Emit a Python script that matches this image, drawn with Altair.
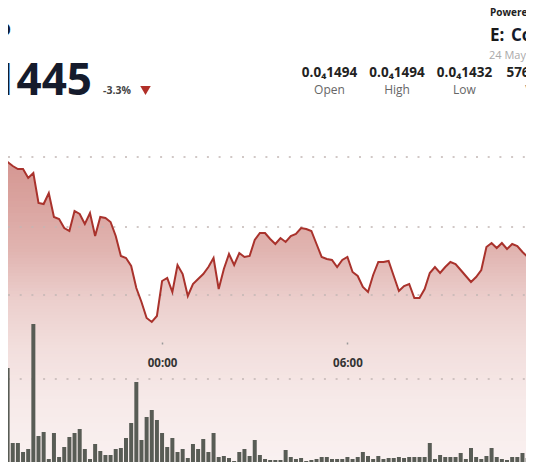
import altair as alt
import numpy as np
import pandas as pd

# ---------------- data ----------------
pair_name = "SHIB/USD"
last_price = "0.0\u20841445"
change_pct = "-3.3%"
stat_labels = ["Open", "High", "Low", "Vol"]
stat_values = ["0.0\u20841494", "0.0\u20841494", "0.0\u20841432", "576.29M"]
powered_by = "Powered by"
brand = "CoinDesk"
updated = "24 May 2025, 11:50 UTC"
x_tick_minutes = [0, 360, 720]
grid_prices = [1.4650, 1.4510, 1.4374, 1.4206]

# 10-minute candles; minute offsets from 00:00 on 24 May (first one 18:50 on 23 May)
start_minute = -310
step_minutes = 10
# close price in units of 1e-5 USD
price_e5 = [
    1.4648, 1.4640, 1.4632, 1.4626, 1.4626, 1.4608, 1.4618, 1.4558, 1.4556, 1.4578,
    1.4530, 1.4526, 1.4508, 1.4502, 1.4542, 1.4536, 1.4516, 1.4538, 1.4492, 1.4530,
    1.4528, 1.4520, 1.4492, 1.4452, 1.4448, 1.4432, 1.4388, 1.4360, 1.4328, 1.4320,
    1.4332, 1.4402, 1.4408, 1.4380, 1.4434, 1.4416, 1.4372, 1.4396, 1.4406, 1.4416,
    1.4430, 1.4448, 1.4386, 1.4426, 1.4456, 1.4434, 1.4458, 1.4450, 1.4452, 1.4484,
    1.4498, 1.4498, 1.4486, 1.4476, 1.4488, 1.4480, 1.4492, 1.4496, 1.4508, 1.4506,
    1.4502, 1.4476, 1.4450, 1.4446, 1.4444, 1.4430, 1.4444, 1.4450, 1.4420, 1.4412,
    1.4390, 1.4380, 1.4414, 1.4440, 1.4440, 1.4442, 1.4412, 1.4382, 1.4392, 1.4396,
    1.4368, 1.4368, 1.4386, 1.4418, 1.4430, 1.4418, 1.4430, 1.4440, 1.4436, 1.4424,
    1.4412, 1.4400, 1.4410, 1.4424, 1.4470, 1.4478, 1.4468, 1.4478, 1.4466, 1.4476,
    1.4472, 1.4460, 1.4450, 1.4440,
]
# volume per candle (relative units)
volume = [
    194, 94, 19, 19, 10, 13, 138, 26, 30, 3,
    29, 5, 15, 25, 29, 33, 13, 3, 18, 11,
    7, 7, 13, 14, 24, 39, 80, 22, 45, 52,
    42, 29, 15, 24, 10, 13, 4, 18, 13, 23,
    10, 29, 5, 6, 4, 1, 10, 13, 6, 22,
    7, 3, 2, 2, 2, 12, 5, 3, 4, 1,
    2, 3, 5, 5, 3, 3, 3, 5, 3, 5,
    10, 6, 3, 6, 3, 4, 4, 5, 4, 5,
    5, 5, 5, 19, 3, 7, 5, 5, 5, 9,
    3, 14, 5, 3, 6, 14, 5, 3, 2, 5,
    5, 9, 4, 4,
]

minutes = [start_minute + step_minutes * i for i in range(len(price_e5))]
df = pd.DataFrame({"t": minutes, "price": price_e5, "vol": volume})
grid_df = pd.DataFrame({"price": grid_prices})

# ---------------- layout / style ----------------
W, H = 518, 454
FONT = "Open Sans"
x_domain = [-152 / 0.525, (W - 152) / 0.525]
price_domain = [1.4948 - 0.0002 * H, 1.4948]

# vertical fade of the area fill: white veil, opacity growing with depth (style only)
fade_y = [142, 192, 242, 292, 342, 392, 454]
fade_a = [0.0, 0.14, 0.30, 0.55, 0.70, 0.80, 0.87]
band_top = np.arange(142, H, 3)
bands = pd.DataFrame({
    "y0": band_top,
    "y1": np.minimum(band_top + 3, H),
    "a": np.interp(band_top + 1.5, fade_y, fade_a),
})

x_axis = alt.Axis(
    title=None, values=x_tick_minutes, grid=False, domain=False,
    ticks=True, tickSize=2, tickColor="#9a9a9a", tickWidth=1.5,
    labelExpr="timeFormat(datetime(2025, 4, 24, 0, datum.value), '%H:%M')",
    labelFont=FONT, labelFontSize=11.5, labelFontWeight="bold", labelColor="#333333",
    labelPadding=13, labelBaseline="top", labelFlush=False, labelOverlap=False,
    offset=334 - H, zindex=2,
)
x_enc = alt.X("t:Q", scale=alt.Scale(domain=x_domain, nice=False, zero=False), axis=x_axis)
price_scale = alt.Scale(domain=price_domain, nice=False, zero=False)

area = alt.Chart(df).mark_area(color="#d4948f", clip=True).encode(
    x=x_enc,
    y=alt.Y("price:Q", scale=price_scale, axis=None),
    y2=alt.value(H),
)
veil = alt.Chart(bands).mark_rect(color="white").encode(
    x=alt.value(0), x2=alt.value(W),
    y=alt.Y("y0:Q", scale=None, axis=None), y2="y1:Q",
    opacity=alt.Opacity("a:Q", scale=None, legend=None),
)
grid = alt.Chart(grid_df).mark_rule(
    color="#c2b6b4", strokeWidth=1.5, strokeDash=[2, 9.7],
).encode(
    y=alt.Y("price:Q", scale=price_scale, axis=None),
    x=alt.value(0), x2=alt.value(W),
)
line = alt.Chart(df).mark_line(color="#a9322c", strokeWidth=2, clip=True).encode(
    x=x_enc,
    y=alt.Y("price:Q", scale=price_scale, axis=None),
)
bars = alt.Chart(df).mark_bar(color="#585c55", size=4, clip=True).encode(
    x=x_enc,
    y=alt.Y("vol:Q", scale=alt.Scale(domain=[0, H], nice=False), axis=None),
)


def label(text, x, y, size, weight="normal", color="#222222", align="left", baseline="alphabetic"):
    return alt.Chart(pd.DataFrame({"t": [text]})).mark_text(
        align=align, baseline=baseline, fontSize=size, fontWeight=weight,
        color=color, font=FONT,
    ).encode(x=alt.value(x), y=alt.value(y), text="t:N")


down_arrow = alt.Chart(pd.DataFrame({"t": [change_pct]})).mark_point(
    shape="triangle-down", filled=True, size=110, color="#b12f28", opacity=1,
).encode(x=alt.value(137.5), y=alt.value(82.5))

texts = [
    label(pair_name, 3, 28, 17, "bold", "#151b2c", "right"),
    label(last_price, 84, 87, 44, "bold", "#151b2c", "right"),
    label(change_pct, 95, 86, 10.5, "bold", "#444444"),
    down_arrow,
    label(powered_by, 482, 8, 10, "bold", "#222222"),
    label("E:", 482, 33, 17, "bold", "#1a1a1a"),
    label(brand, 503, 33, 17, "bold", "#151b2c"),
    label(updated, 481, 51, 11, "normal", "#aaaaaa"),
]
stat_x = [321.5, 389, 456.5, 526]
for sx, sv, sl in zip(stat_x, stat_values, stat_labels):
    texts.append(label(sv, sx, 69, 13.5, "bold", "#222222", "center"))
    texts.append(label(sl, sx, 86, 12, "normal", "#666666", "center"))

chart = alt.layer(
    area,
    veil,
    alt.layer(grid, line),
    bars,
    *texts,
).resolve_scale(y="independent").properties(
    width=W, height=H, autosize=alt.AutoSizeParams(type="none"), padding=0,
    background="white",
).configure_view(stroke=None)

chart.save("out.html", embed_options={"renderer": "svg", "actions": False})
